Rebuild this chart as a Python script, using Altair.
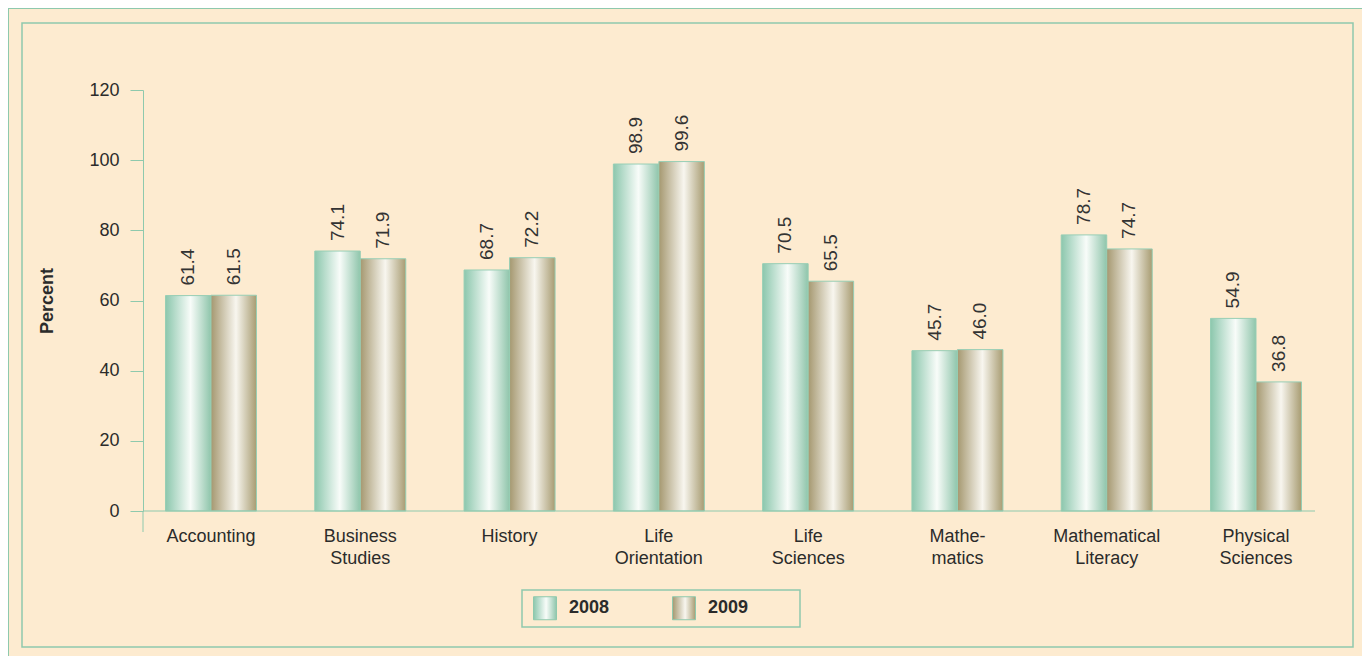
import altair as alt
import pandas as pd

categories = ["Accounting", "Business|Studies", "History", "Life|Orientation",
              "Life|Sciences", "Mathe-|matics", "Mathematical|Literacy", "Physical|Sciences"]
years = ["2008", "2009"]
v2008 = [61.4, 74.1, 68.7, 98.9, 70.5, 45.7, 78.7, 54.9]
v2009 = [61.5, 71.9, 72.2, 99.6, 65.5, 46.0, 74.7, 36.8]

rows = []
for c, a, b in zip(categories, v2008, v2009):
    rows.append({"subject": c, "year": "2008", "pct": a})
    rows.append({"subject": c, "year": "2009", "pct": b})
df = pd.DataFrame(rows)

GREEN = "#8ec9ad"
BG = "#fdebd0"
FONT = "Liberation Sans"
TXT = "#2b2b2b"

g2008 = ("{gradient:'linear',x1:0,y1:0,x2:1,y2:0,stops:["
         "{offset:0,color:'#8cc7ad'},{offset:0.55,color:'#f8fcf9'},{offset:1,color:'#8fc5ab'}]}")
g2009 = ("{gradient:'linear',x1:0,y1:0,x2:1,y2:0,stops:["
         "{offset:0,color:'#a59870'},{offset:0.55,color:'#f8f6ef'},{offset:1,color:'#a89c72'}]}")

xenc = alt.X("subject:N", sort=categories,
             scale=alt.Scale(paddingInner=0.3905, paddingOuter=0.1507),
             axis=alt.Axis(title=None, labelExpr="split(datum.label, '|')",
                           labelFont=FONT, labelFontSize=18, labelColor=TXT,
                           labelAngle=0, labelPadding=16, labelLineHeight=22,
                           ticks=False, domain=False, labelBaseline="top"))
xoff = alt.XOffset("year:N", scale=alt.Scale(domain=years, paddingInner=0, paddingOuter=0))
yenc = alt.Y("pct:Q", scale=alt.Scale(domain=[0, 120], nice=False),
             axis=alt.Axis(title="Percent", values=[0, 20, 40, 60, 80, 100, 120],
                           grid=False, domainColor=GREEN, tickColor=GREEN, tickSize=13,
                           labelFont=FONT, labelFontSize=18, labelColor=TXT, labelPadding=11,
                           titleFont=FONT, titleFontSize=18, titleFontWeight="bold",
                           titleColor=TXT, titlePadding=32))

base = alt.Chart(df).encode(x=xenc, xOffset=xoff, y=yenc)

bars = base.mark_bar(stroke="#97ceb5", strokeWidth=1).encode(
    color=alt.Color("year:N",
                    scale=alt.Scale(domain=years, range=[{"expr": g2008}, {"expr": g2009}]),
                    legend=alt.Legend(title=None, orient="none", legendX=390, legendY=506,
                                      direction="horizontal", symbolType="square",
                                      symbolSize=529, symbolStrokeColor=GREEN,
                                      symbolStrokeWidth=1, labelFont=FONT,
                                      labelFontSize=18, labelFontWeight="bold",
                                      labelColor=TXT, labelOffset=12, columnPadding=60,
                                      padding=0))
)

labels = base.mark_text(angle=270, align="left", baseline="middle", dx=10,
                        font=FONT, fontSize=19, color="#333333").encode(
    text=alt.Text("pct:Q", format=".1f")
)

one = alt.Data(values=[{"k": 1}])

outer = alt.Chart(one).mark_rect(fillOpacity=0, stroke=GREEN, strokeWidth=2).encode(
    x=alt.value(-135), x2=alt.value(1223), y=alt.value(-82), y2=alt.value(575))
inner = alt.Chart(one).mark_rect(fillOpacity=0, stroke=GREEN, strokeWidth=1.5).encode(
    x=alt.value(-121), x2=alt.value(1210), y=alt.value(-67), y2=alt.value(557))
legbox = alt.Chart(one).mark_rect(fillOpacity=0, stroke=GREEN, strokeWidth=1.5).encode(
    x=alt.value(379), x2=alt.value(657), y=alt.value(500), y2=alt.value(537))
baseline = alt.Chart(one).mark_rule(color=GREEN, strokeWidth=1).encode(
    x=alt.value(0), x2=alt.value(1172), y=alt.value(421))
ystub = alt.Chart(one).mark_rule(color=GREEN, strokeWidth=1).encode(
    x=alt.value(0), y=alt.value(421), y2=alt.value(442))

chart = alt.layer(outer, inner, legbox, bars, labels, baseline, ystub).properties(
    width=1181, height=421,
    autosize=alt.AutoSizeParams(type="none"),
    padding={"left": 135, "top": 82, "right": 38, "bottom": 145},
    background=BG,
).configure_view(stroke=None)

chart.save("out.html", embed_options={"renderer": "svg", "actions": False})
